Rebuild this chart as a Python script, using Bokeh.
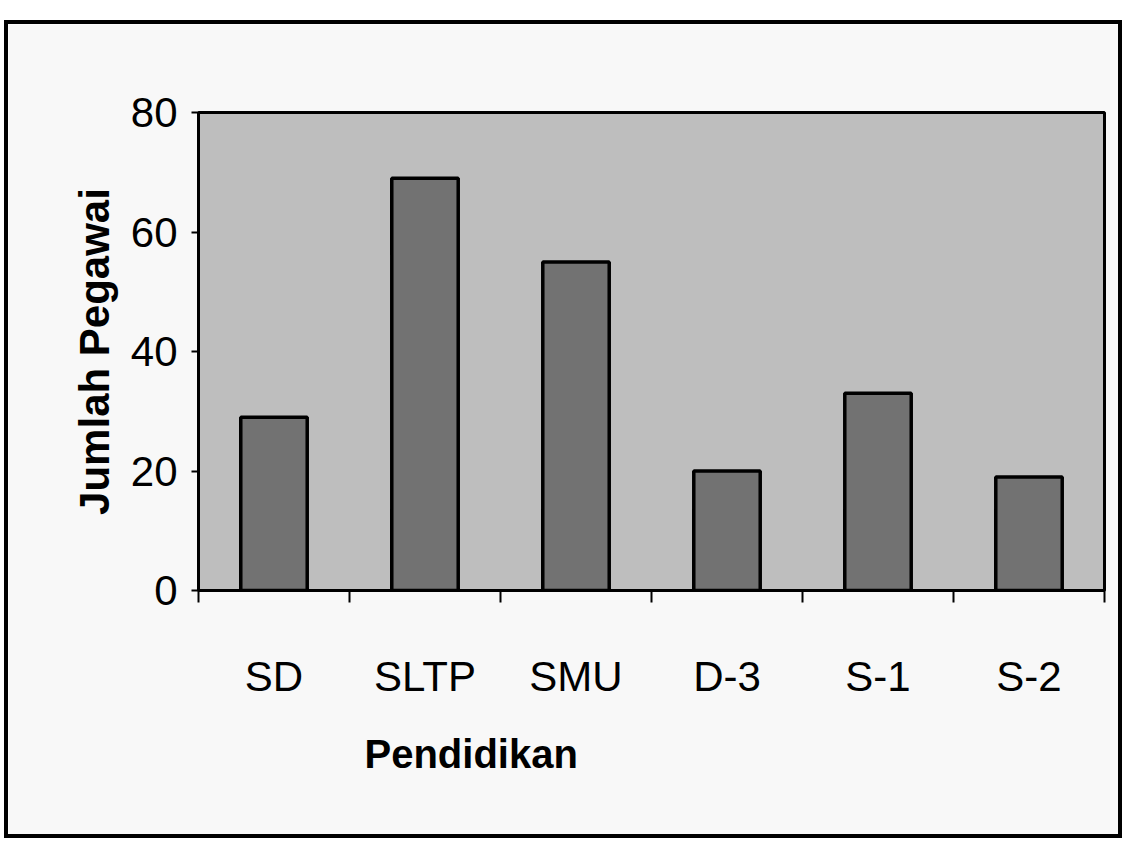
from bokeh.plotting import figure
from bokeh.models import Range1d, FixedTicker, Title
from bokeh.embed import file_html
from bokeh.resources import INLINE

# ---- data ----
categories = ["SD", "SLTP", "SMU", "D-3", "S-1", "S-2"]
jumlah_pegawai = [29, 69, 55, 20, 33, 19]
y_ticks = [0, 20, 40, 60, 80]
x_title = "Pendidikan"
y_title = "Jumlah Pegawai"

xpos = [i + 0.5 for i in range(len(categories))]
boundaries = list(range(len(categories) + 1))

p = figure(width=1118, height=818, output_backend="svg", toolbar_location=None,
           x_range=Range1d(0, len(categories)), y_range=Range1d(0, 80),
           min_border_left=190, min_border_right=22, min_border_top=88, min_border_bottom=252)
p.margin = (20, 0, 0, 4)
p.styles = {"border": "4px solid black", "box-sizing": "border-box"}

p.background_fill_color = "#bebebe"
p.border_fill_color = "#f8f8f8"
p.outline_line_color = "black"
p.outline_line_width = 3
p.xgrid.grid_line_color = None
p.ygrid.grid_line_color = None

p.vbar(x=xpos, top=jumlah_pegawai, width=0.44, fill_color="#727272",
       line_color="black", line_width=3.5)

# x axis
xa = p.xaxis[0]
xa.ticker = FixedTicker(ticks=xpos, minor_ticks=boundaries)
xa.major_label_overrides = {x: c for x, c in zip(xpos, categories)}
xa.major_tick_line_color = None
xa.major_tick_out = 0
xa.major_tick_in = 0
xa.minor_tick_line_color = "black"
xa.minor_tick_line_width = 2
xa.minor_tick_out = 12
xa.minor_tick_in = 0
xa.axis_line_color = "black"
xa.axis_line_width = 3
xa.major_label_standoff = 50
xa.major_label_text_font = "Liberation Sans"
xa.major_label_text_font_size = "42px"
xa.major_label_text_color = "black"

# x axis title, left-aligned under the frame as in the reference
p.add_layout(Title(text=x_title, align="left", offset=166, standoff=54,
                   text_font="Liberation Sans", text_font_style="bold",
                   text_font_size="40px", text_color="black"), "below")

# y axis
ya = p.yaxis[0]
ya.ticker = FixedTicker(ticks=y_ticks)
ya.major_tick_out = 7
ya.major_tick_in = 0
ya.major_tick_line_color = "black"
ya.major_tick_line_width = 2
ya.minor_tick_line_color = None
ya.axis_line_color = "black"
ya.axis_line_width = 3
ya.major_label_standoff = 14
ya.major_label_text_font = "Liberation Sans"
ya.major_label_text_font_size = "42px"
ya.major_label_text_color = "black"
ya.axis_label = y_title
ya.axis_label_text_font = "Liberation Sans"
ya.axis_label_text_font_style = "bold"
ya.axis_label_text_font_size = "42px"
ya.axis_label_text_color = "black"
ya.axis_label_standoff = 10

open("out.html", "w").write(file_html(p, INLINE))
